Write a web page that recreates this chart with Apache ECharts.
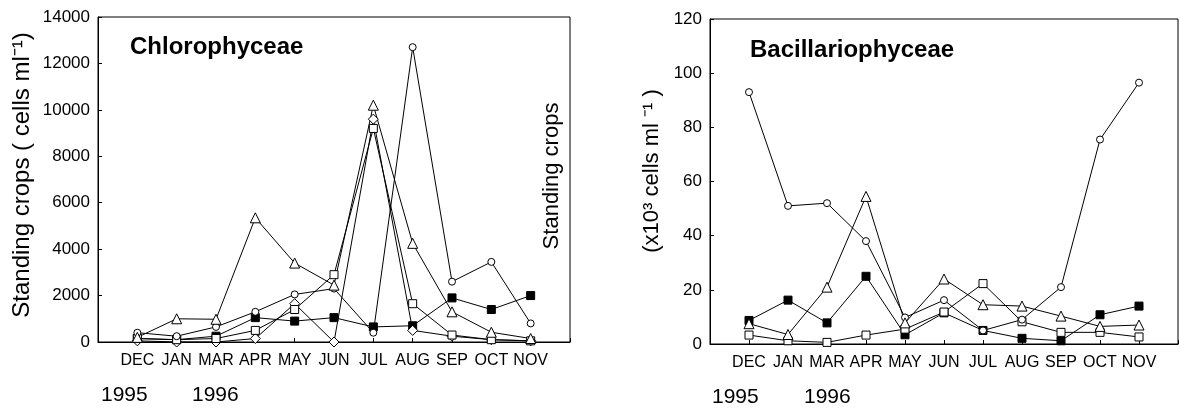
<!DOCTYPE html>
<html><head><meta charset="utf-8">
<script src="https://cdn.jsdelivr.net/npm/echarts@6/dist/echarts.min.js"></script>
<style>html,body{margin:0;padding:0;background:#fff}#c{width:1181px;height:410px}</style>
</head><body><div id="c"></div><script>
// ---- data ----
const months = ['DEC','JAN','MAR','APR','MAY','JUN','JUL','AUG','SEP','OCT','NOV'];
const yearLabels = ['1995','1996'];
const leftTitle = 'Chlorophyceae';
const rightTitle = 'Bacillariophyceae';
const leftYTicks = [0, 14000, 2000];   // min, max, step
const rightYTicks = [0, 120, 20];

// Chlorophyceae (cells ml-1)
const chloroTriangle = [200, 1000, 980, 5350, 3400, 2450, 10200, 4250, 1300, 420, 150];
const chloroCircle   = [400, 250, 650, 1300, 2050, 2300, 400, 12700, 2600, 3450, 800];
const chloroSquare   = [150, 100, 150, 500, 1400, 2900, 9200, 1650, 300, 100, 50];
const chloroFilled   = [150, 100, 250, 1050, 900, 1050, 650, 700, 1900, 1400, 2000];
const chloroDiamond  = [50, 0, 0, 150, 1650, 0, 9600, 500, 250, 100, 50];

// Bacillariophyceae (x10^3 cells ml-1)
const bacCircle   = [93, 51, 52, 38, 9.8, 16.2, 5, 9, 21, 75.5, 96.5];
const bacTriangle = [7.5, 3.5, 21, 54.5, 7.8, 24, 14.5, 14, 10.3, 6.5, 7];
const bacFilled   = [8.7, 16.2, 7.8, 25, 3.4, 11.5, 5, 2.1, 1.2, 10.8, 14];
const bacSquare   = [3.3, 1.2, 0.6, 3.3, 5.5, 11.8, 22.3, 8.2, 4.3, 4.3, 2.6];

const FONT = "'Liberation Sans', Arial, Helvetica, sans-serif";
const toPts = arr => arr.map((v, i) => [i + 1, v]);

function mkSeries(data, symbol, size, filled, gi) {
  return {
    type: 'line', xAxisIndex: gi, yAxisIndex: gi,
    data: toPts(data), symbol: symbol, symbolSize: size,
    showAllSymbol: true, silent: true, animation: false,
    lineStyle: {color: '#000', width: 1},
    itemStyle: {color: filled ? '#000' : '#fff', borderColor: '#000', borderWidth: 1, opacity: 1},
    emphasis: {disabled: true}
  };
}

function xAx(gi) {
  return {
    type: 'value', gridIndex: gi, min: 0, max: 12, interval: 1,
    axisLine: {show: true, lineStyle: {color: '#000', width: 1}},
    axisTick: {show: true, inside: true, length: 4, lineStyle: {color: '#000'}},
    axisLabel: {color: '#000', fontFamily: FONT, fontSize: 16, margin: 11,
      formatter: v => months[v - 1] || ''},
    splitLine: {show: false}
  };
}
function yAx(gi, t, fs) {
  return {
    type: 'value', gridIndex: gi, min: t[0], max: t[1], interval: t[2],
    axisLine: {show: true, lineStyle: {color: '#000', width: 1}},
    axisTick: {show: true, inside: true, length: 4, lineStyle: {color: '#000'}},
    axisLabel: {color: '#000', fontFamily: FONT, fontSize: fs, margin: 8,
      formatter: v => String(v)},
    splitLine: {show: false}
  };
}

function txt(x, y, text, size, opts) {
  opts = opts || {};
  return {
    type: 'text', x: x, y: y, rotation: opts.rot || 0, silent: true,
    style: {text: text, fill: '#000', font: (opts.bold ? 'bold ' : '') + size + 'px ' + FONT,
      align: opts.align || 'left', verticalAlign: 'middle'}
  };
}

const chart = echarts.init(document.getElementById('c'), null, {renderer: 'canvas'});
chart.setOption({
  animation: false,
  backgroundColor: '#fff',
  grid: [
    {left: 98, top: 17, width: 472, height: 325, show: true, borderColor: '#000', borderWidth: 1},
    {left: 710, top: 19, width: 472, height: 325, show: true, borderColor: '#000', borderWidth: 1}
  ],
  xAxis: [xAx(0), xAx(1)],
  yAxis: [yAx(0, leftYTicks, 17), yAx(1, rightYTicks, 17)],
  series: [
    mkSeries(chloroFilled, 'rect', 8, true, 0),
    mkSeries(chloroDiamond, 'diamond', 10, false, 0),
    mkSeries(chloroSquare, 'rect', 8, false, 0),
    mkSeries(chloroCircle, 'circle', 7, false, 0),
    mkSeries(chloroTriangle, 'triangle', 10, false, 0),
    mkSeries(bacFilled, 'rect', 8, true, 1),
    mkSeries(bacSquare, 'rect', 8, false, 1),
    mkSeries(bacCircle, 'circle', 7, false, 1),
    mkSeries(bacTriangle, 'triangle', 10, false, 1)
  ],
  graphic: [
    txt(130, 47, leftTitle, 24, {bold: true}),
    txt(750, 50, rightTitle, 24, {bold: true}),
    txt(22, 175, 'Standing crops ( cells ml\u207B\u00B9)', 24, {rot: Math.PI / 2, align: 'center'}),
    txt(552, 176, 'Standing crops', 22, {rot: Math.PI / 2, align: 'center'}),
    txt(652, 171, '(x10\u00B3 cells ml \u207B\u00B9 )', 22, {rot: Math.PI / 2, align: 'center'}),
    txt(101, 395, yearLabels[0], 21),
    txt(192, 395, yearLabels[1], 21),
    txt(712, 397, yearLabels[0], 21),
    txt(804, 397, yearLabels[1], 21)
  ]
});
</script></body></html>
